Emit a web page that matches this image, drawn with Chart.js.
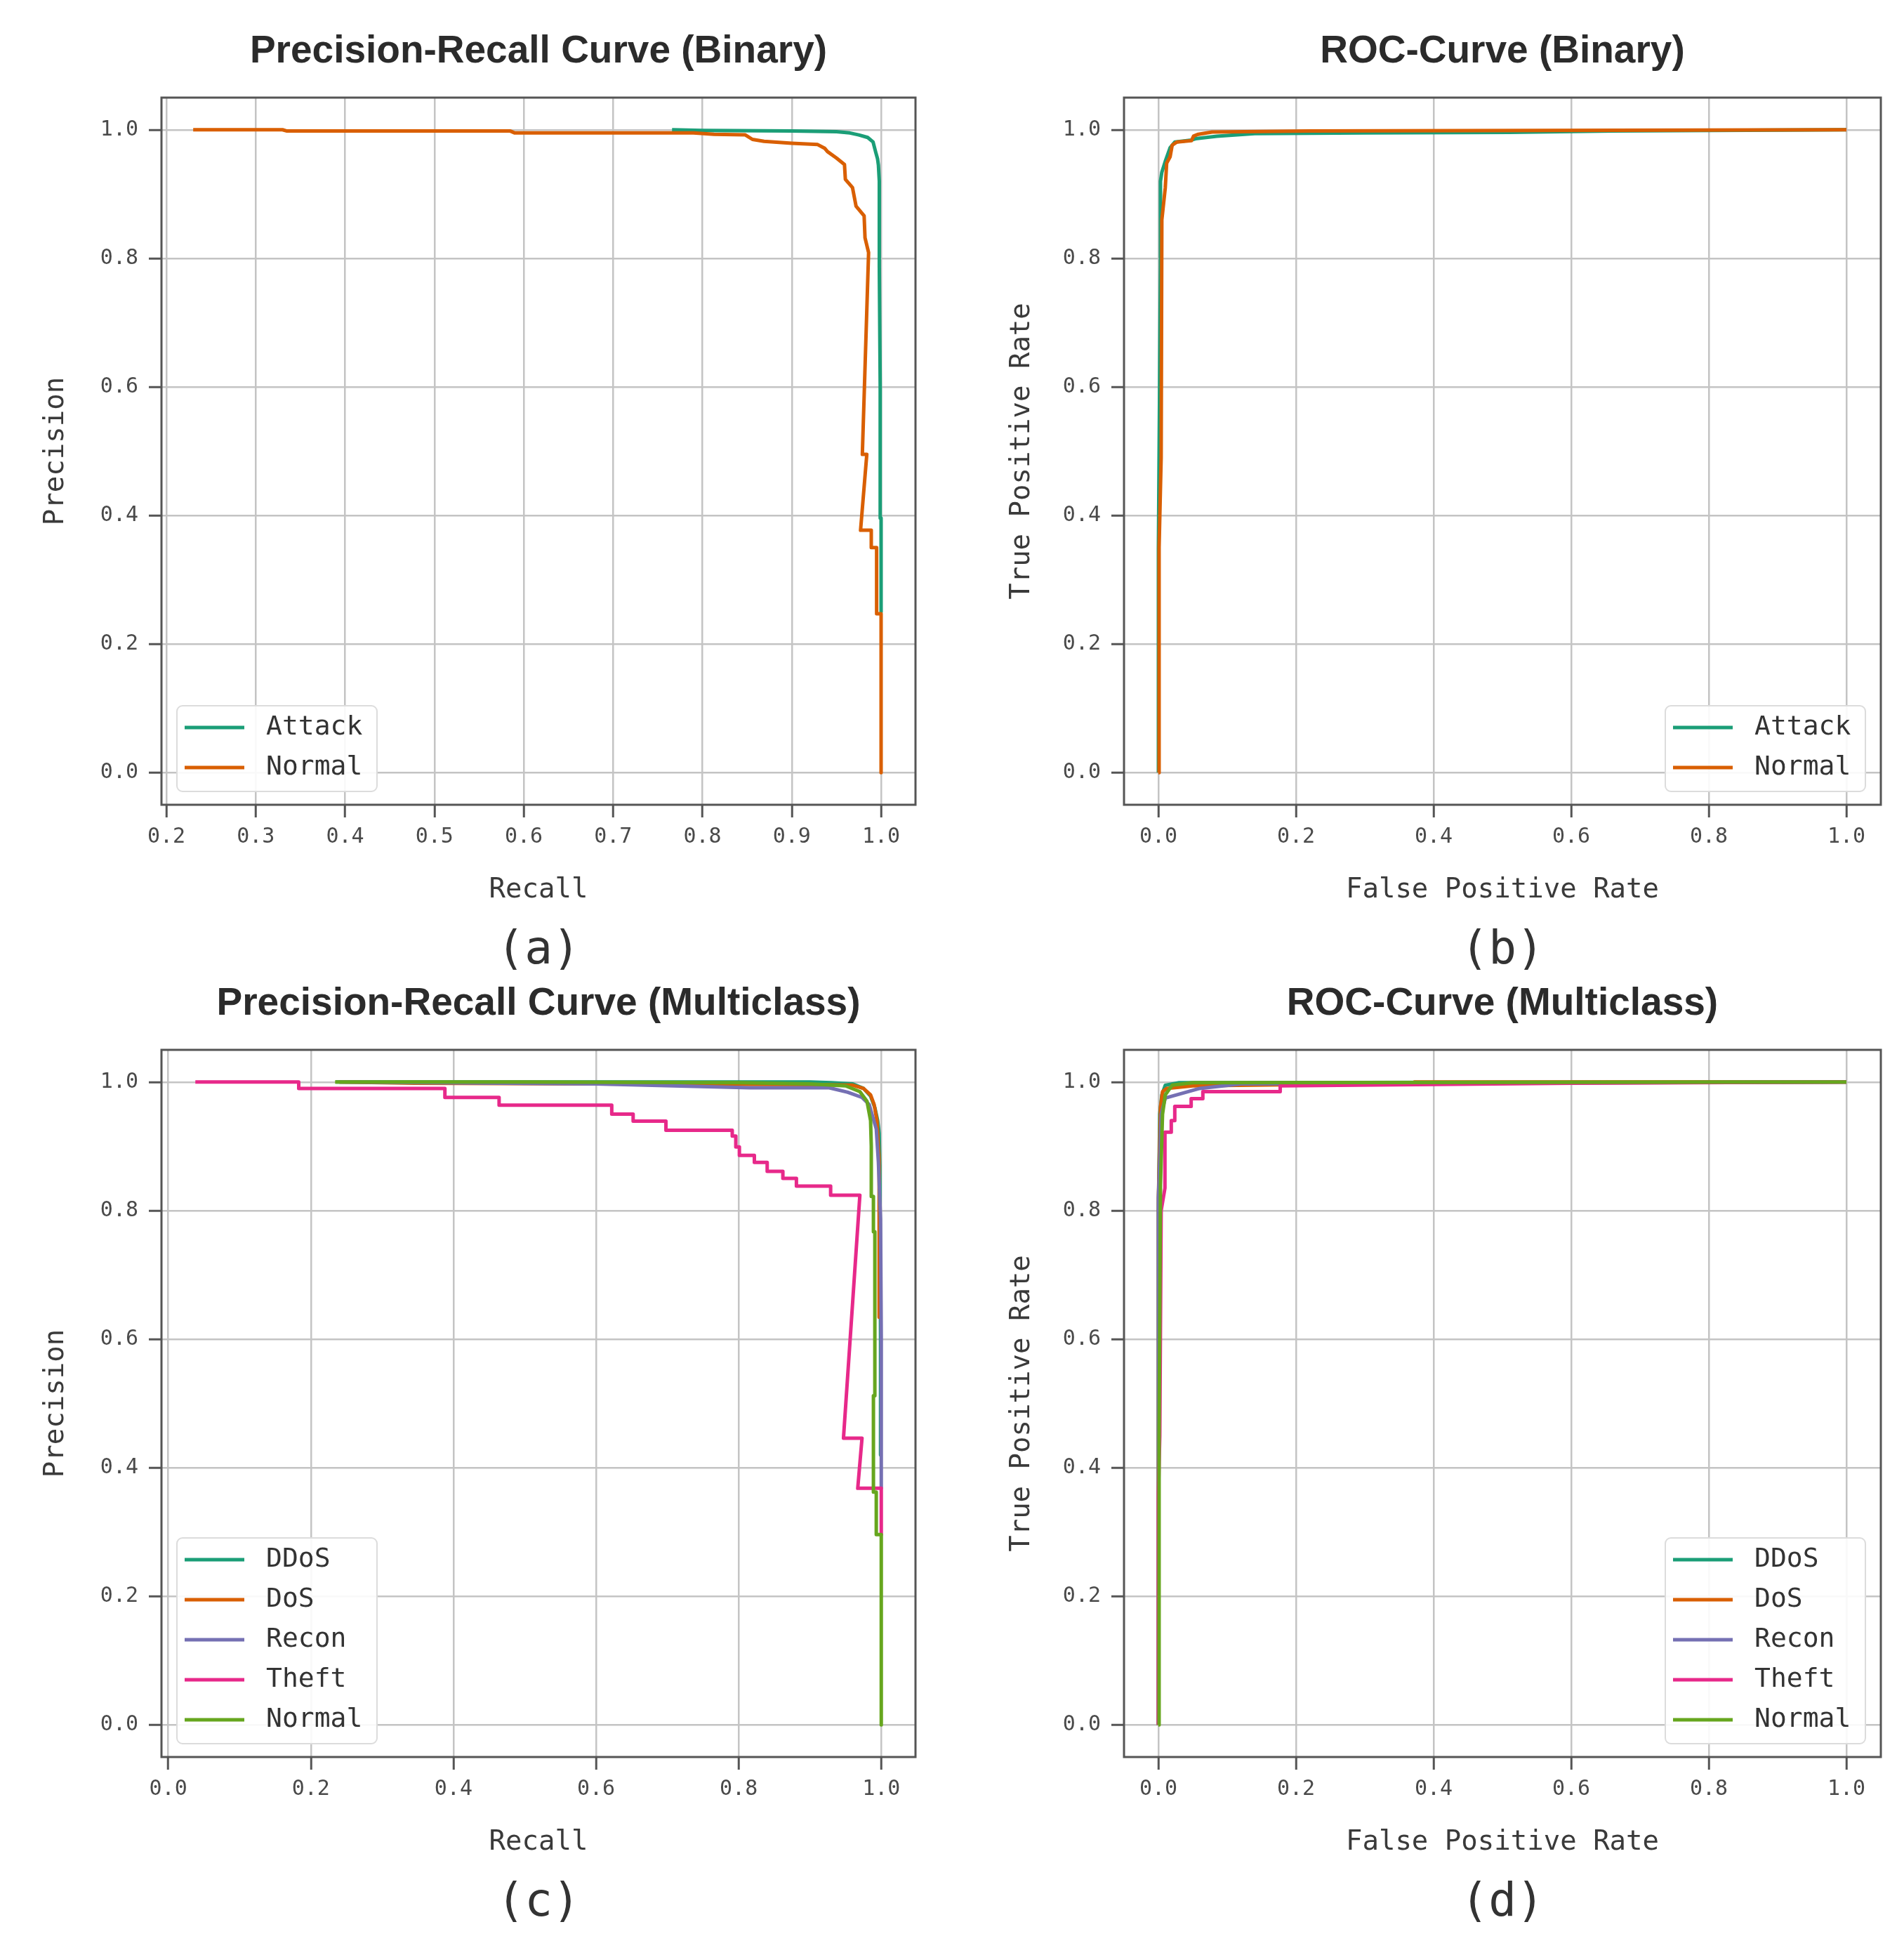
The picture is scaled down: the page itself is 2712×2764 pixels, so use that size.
<!DOCTYPE html>
<html>
<head>
<meta charset="utf-8">
<script src="https://cdn.jsdelivr.net/npm/chart.js@4.4.1/dist/chart.umd.min.js"></script>
<style>
  html, body { margin: 0; background: #fff; width: 2712px; height: 2764px; overflow: hidden; position: relative; }
  canvas { position: absolute; }
</style>
</head>
<body>
<canvas id="prBinary" width="1356" height="1400" style="left:0;top:0"></canvas>
<canvas id="rocBinary" width="1356" height="1400" style="left:1356px;top:0"></canvas>
<canvas id="prMulti" width="1356" height="1408" style="left:0;top:1356px"></canvas>
<canvas id="rocMulti" width="1356" height="1408" style="left:1356px;top:1356px"></canvas>
<script>
// class names
const binaryClasses = ["Attack", "Normal"];
const multiClasses = ["DDoS", "DoS", "Recon", "Theft", "Normal"];

// tick labels
const recallTicksBinary = [0.2, 0.3, 0.4, 0.5, 0.6, 0.7, 0.8, 0.9, 1.0];
const unitTicks = [0.0, 0.2, 0.4, 0.6, 0.8, 1.0];

// (a) precision-recall, binary
const prAttackRecall = [0.766, 0.80, 0.90, 0.95, 0.965, 0.975, 0.985, 0.991, 0.994, 0.996, 0.997, 0.998, 0.998, 0.999, 0.999, 1.0, 1.0];
const prAttackPrecision = [1.0, 0.999, 0.998, 0.997, 0.995, 0.992, 0.988, 0.981, 0.965, 0.955, 0.945, 0.92, 0.786, 0.60, 0.396, 0.396, 0.25];
const prNormalRecall = [0.23, 0.33, 0.335, 0.585, 0.59, 0.79, 0.813, 0.848, 0.856, 0.869, 0.90, 0.929, 0.937, 0.94, 0.95, 0.959, 0.96, 0.968, 0.972, 0.981, 0.982, 0.986, 0.979, 0.984, 0.977, 0.989, 0.989, 0.995, 0.995, 1.0, 1.0];
const prNormalPrecision = [1.0, 1.0, 0.998, 0.998, 0.995, 0.995, 0.993, 0.992, 0.985, 0.982, 0.979, 0.977, 0.971, 0.966, 0.956, 0.946, 0.923, 0.91, 0.881, 0.866, 0.832, 0.809, 0.495, 0.495, 0.377, 0.377, 0.35, 0.35, 0.247, 0.247, 0.0];

// (b) ROC, binary
const rocAttackFpr = [0, 0, 0.003, 0.003, 0.005, 0.01, 0.017, 0.024, 0.048, 0.054, 0.085, 0.14, 0.3, 0.51, 0.66, 1.0];
const rocAttackTpr = [0, 0.35, 0.79, 0.92, 0.934, 0.951, 0.972, 0.981, 0.984, 0.986, 0.99, 0.994, 0.995, 0.996, 0.998, 1.0];
const rocNormalFpr = [0, 0.001, 0.004, 0.005, 0.01, 0.012, 0.017, 0.02, 0.027, 0.048, 0.051, 0.058, 0.078, 0.22, 1.0];
const rocNormalTpr = [0, 0.35, 0.49, 0.86, 0.91, 0.948, 0.958, 0.976, 0.981, 0.983, 0.99, 0.993, 0.9965, 0.998, 1.0];

// (c) precision-recall, multiclass
const prDdosRecall = [0.235, 0.9, 0.93, 0.96, 0.975, 0.985, 0.991, 0.995, 0.997, 0.998, 0.999, 0.999];
const prDdosPrecision = [1.0, 1.0, 0.999, 0.997, 0.99, 0.978, 0.96, 0.94, 0.92, 0.87, 0.6, 0.42];
const prDosRecall = [0.24, 0.345, 0.6, 0.9, 0.96, 0.975, 0.985, 0.99, 0.994, 0.997, 0.997];
const prDosPrecision = [1.0, 0.998, 0.997, 0.996, 0.995, 0.99, 0.98, 0.965, 0.94, 0.878, 0.634];
const prReconRecall = [0.24, 0.6, 0.816, 0.927, 0.953, 0.973, 0.983, 0.993, 0.996, 0.999, 1.0, 1.0];
const prReconPrecision = [1.0, 0.997, 0.991, 0.991, 0.984, 0.976, 0.965, 0.927, 0.875, 0.787, 0.6, 0.369];
const prTheftRecall = [0.038, 0.183, 0.183, 0.388, 0.388, 0.464, 0.464, 0.622, 0.622, 0.652, 0.652, 0.698, 0.698, 0.791, 0.791, 0.796, 0.796, 0.801, 0.801, 0.822, 0.822, 0.840, 0.840, 0.862, 0.862, 0.881, 0.881, 0.929, 0.929, 0.970, 0.947, 0.973, 0.967, 1.0, 1.0];
const prTheftPrecision = [1.0, 1.0, 0.99, 0.99, 0.976, 0.976, 0.964, 0.964, 0.95, 0.95, 0.939, 0.939, 0.925, 0.925, 0.916, 0.916, 0.899, 0.899, 0.886, 0.886, 0.875, 0.875, 0.861, 0.861, 0.850, 0.850, 0.838, 0.838, 0.824, 0.824, 0.446, 0.446, 0.368, 0.368, 0.296];
const prMNormalRecall = [0.234, 0.5, 0.8, 0.9, 0.95, 0.97, 0.98, 0.985, 0.986, 0.986, 0.989, 0.989, 0.991, 0.991, 0.989, 0.989, 0.993, 0.993, 1.0, 1.0];
const prMNormalPrecision = [1.0, 1.0, 0.999, 0.997, 0.994, 0.985, 0.97, 0.94, 0.90, 0.822, 0.822, 0.767, 0.767, 0.512, 0.512, 0.362, 0.362, 0.296, 0.296, 0.0];

// (d) ROC, multiclass
const rocDdosFpr = [0, 0, 0.002, 0.005, 0.01, 0.03, 1.0];
const rocDdosTpr = [0, 0.8, 0.95, 0.98, 0.995, 0.999, 1.0];
const rocDosFpr = [0, 0, 0.003, 0.006, 0.012, 0.05, 0.2, 0.37, 0.372, 1.0];
const rocDosTpr = [0, 0.82, 0.96, 0.985, 0.99, 0.994, 0.996, 0.997, 1.0, 1.0];
const rocReconFpr = [0, 0, 0.002, 0.004, 0.01, 0.03, 0.06, 0.12, 1.0];
const rocReconTpr = [0, 0.82, 0.88, 0.95, 0.975, 0.981, 0.99, 0.997, 1.0];
const rocTheftFpr = [0, 0, 0.002, 0.004, 0.0095, 0.0095, 0.0187, 0.0187, 0.0238, 0.0238, 0.0476, 0.0476, 0.0646, 0.0646, 0.177, 0.177, 0.6, 1.0];
const rocTheftTpr = [0, 0.36, 0.45, 0.80, 0.835, 0.922, 0.922, 0.94, 0.94, 0.962, 0.962, 0.974, 0.974, 0.985, 0.985, 0.994, 0.998, 1.0];
const rocMNormalFpr = [0, 0.001, 0.003, 0.006, 0.01, 0.02, 0.05, 1.0];
const rocMNormalTpr = [0, 0.45, 0.84, 0.95, 0.98, 0.995, 0.999, 1.0];

const palette = ["#1b9e77", "#d95f02", "#7570b3", "#e7298a", "#66a61e"];
const mono = '"DejaVu Sans Mono", "Liberation Mono", monospace';

function lines(names, xs, ys) {
  return names.map((name, i) => ({
    label: name,
    data: xs[i].map((x, j) => ({ x: x, y: ys[i][j] })),
    borderColor: palette[i],
    backgroundColor: palette[i],
    borderWidth: 5,
    pointRadius: 0,
    showLine: true,
    tension: 0,
    borderJoinStyle: "round",
    order: names.length - i   // later series on top, like matplotlib
  }));
}

// axes frame + legend box inside the plot
const boxLegend = {
  id: "boxLegend",
  afterDatasetsDraw(chart, args, opts) {
    const { ctx, chartArea: a } = chart;
    const sets = chart.data.datasets;
    ctx.save();
    ctx.strokeStyle = "#555";
    ctx.lineWidth = 3;
    ctx.strokeRect(a.left, a.top, a.right - a.left, a.bottom - a.top);

    const w = 285, rowH = 57;
    const h = 30 + (sets.length - 1) * rowH + 35;
    const left = opts.side === "right" ? a.right - 22 - w : a.left + 22;
    const top = a.bottom - 19 - h;
    ctx.beginPath();
    ctx.roundRect(left, top, w, h, 8);
    ctx.fillStyle = "rgba(255,255,255,0.9)";
    ctx.fill();
    ctx.strokeStyle = "#dcdcdc";
    ctx.lineWidth = 2;
    ctx.stroke();

    ctx.font = "38px " + mono;
    ctx.textBaseline = "middle";
    ctx.textAlign = "left";
    sets.forEach((ds, i) => {
      const y = top + 31 + i * rowH;
      ctx.strokeStyle = ds.borderColor;
      ctx.lineWidth = 5;
      ctx.beginPath();
      ctx.moveTo(left + 11, y);
      ctx.lineTo(left + 96, y);
      ctx.stroke();
      ctx.fillStyle = "#333";
      ctx.fillText(ds.label, left + 127, y);
    });
    ctx.restore();
  }
};

// title above the plot and (a)/(b)... tag below it
const panelText = {
  id: "panelText",
  afterDraw(chart, args, opts) {
    const { ctx, chartArea: a } = chart;
    const cx = (a.left + a.right) / 2;
    ctx.save();
    ctx.textAlign = "center";
    ctx.textBaseline = "middle";
    ctx.fillStyle = "#2b2b2b";
    ctx.font = 'bold 55px "Liberation Sans", Arial, sans-serif';
    ctx.fillText(opts.title, cx, a.top - 65);
    ctx.fillStyle = "#333";
    ctx.font = "66px " + mono;
    ctx.fillText(opts.tag, cx, a.bottom + 209);
    ctx.restore();
  }
};

function makeChart(id, cfg) {
  const grid = () => ({ color: "#c4c4c4", lineWidth: 2.5, tickColor: "#555", tickLength: 18, tickWidth: 3 });
  const tickFont = { family: mono, size: 30 };
  const axisFont = { family: mono, size: 39 };
  return new Chart(document.getElementById(id), {
    type: "scatter",
    data: { datasets: cfg.datasets },
    options: {
      responsive: false,
      animation: false,
      devicePixelRatio: 1,
      layout: { autoPadding: false, padding: { left: 0, top: 139, right: cfg.padRight, bottom: cfg.padBottom } },
      plugins: {
        legend: { display: false },
        tooltip: { enabled: false },
        boxLegend: { side: cfg.legendSide },
        panelText: { title: cfg.title, tag: cfg.tag }
      },
      scales: {
        x: {
          type: "linear",
          min: cfg.xMin,
          max: cfg.xMax,
          afterBuildTicks: s => { s.ticks = cfg.xTicks.map(v => ({ value: v })); },
          afterFit: s => { s.height = 160; },
          ticks: { font: tickFont, color: "#4a4a4a", padding: 10, maxRotation: 0, autoSkip: false, callback: v => v.toFixed(1) },
          grid: grid(),
          border: { display: false },
          title: { display: true, text: cfg.xLabel, font: axisFont, color: "#3a3a3a", padding: { top: 0, bottom: 15 } }
        },
        y: {
          type: "linear",
          min: -0.05,
          max: 1.05,
          afterBuildTicks: s => { s.ticks = unitTicks.map(v => ({ value: v })); },
          afterFit: s => { s.width = cfg.yWidth; },
          ticks: { font: tickFont, color: "#4a4a4a", padding: 15, autoSkip: false, callback: v => v.toFixed(1) },
          grid: grid(),
          border: { display: false },
          title: { display: true, text: cfg.yLabel, font: axisFont, color: "#3a3a3a", padding: { top: cfg.yTitlePad, bottom: 0 } }
        }
      }
    },
    plugins: [boxLegend, panelText]
  });
}

makeChart("prBinary", {
  datasets: lines(binaryClasses, [prAttackRecall, prNormalRecall], [prAttackPrecision, prNormalPrecision]),
  title: "Precision-Recall Curve (Binary)", tag: "(a)",
  xLabel: "Recall", yLabel: "Precision",
  xMin: 0.1945, xMax: 1.0385, xTicks: recallTicksBinary,
  yWidth: 230, yTitlePad: 56, padRight: 52, padBottom: 94, legendSide: "left"
});

makeChart("rocBinary", {
  datasets: lines(binaryClasses, [rocAttackFpr, rocNormalFpr], [rocAttackTpr, rocNormalTpr]),
  title: "ROC-Curve (Binary)", tag: "(b)",
  xLabel: "False Positive Rate", yLabel: "True Positive Rate",
  xMin: -0.05, xMax: 1.05, xTicks: unitTicks,
  yWidth: 245, yTitlePad: 76, padRight: 33, padBottom: 94, legendSide: "right"
});

makeChart("prMulti", {
  datasets: lines(multiClasses,
    [prDdosRecall, prDosRecall, prReconRecall, prTheftRecall, prMNormalRecall],
    [prDdosPrecision, prDosPrecision, prReconPrecision, prTheftPrecision, prMNormalPrecision]),
  title: "Precision-Recall Curve (Multiclass)", tag: "(c)",
  xLabel: "Recall", yLabel: "Precision",
  xMin: -0.0095, xMax: 1.048, xTicks: unitTicks,
  yWidth: 230, yTitlePad: 56, padRight: 52, padBottom: 102, legendSide: "left"
});

makeChart("rocMulti", {
  datasets: lines(multiClasses,
    [rocDdosFpr, rocDosFpr, rocReconFpr, rocTheftFpr, rocMNormalFpr],
    [rocDdosTpr, rocDosTpr, rocReconTpr, rocTheftTpr, rocMNormalTpr]),
  title: "ROC-Curve (Multiclass)", tag: "(d)",
  xLabel: "False Positive Rate", yLabel: "True Positive Rate",
  xMin: -0.05, xMax: 1.05, xTicks: unitTicks,
  yWidth: 245, yTitlePad: 76, padRight: 33, padBottom: 102, legendSide: "right"
});
</script>
</body>
</html>
